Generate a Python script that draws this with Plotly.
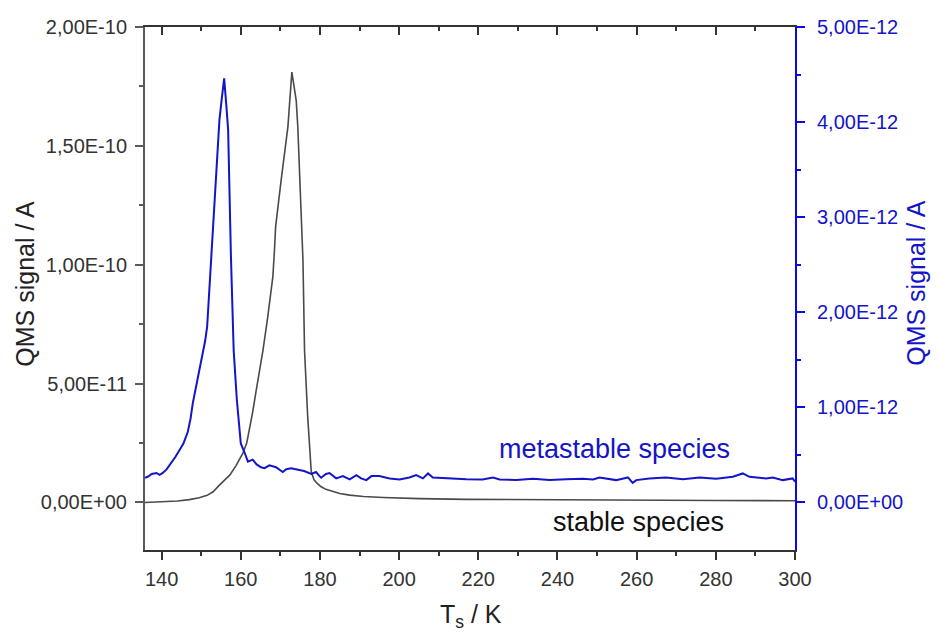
import plotly.graph_objects as go

# ---- data ----
# stable species (left axis, A)
t_stable = [135.8, 140, 144, 147, 149.5, 151.5, 153, 154.6, 156, 157.2, 158.8, 160.5, 161.5,
            162.2, 163.0, 163.9, 164.8, 165.6, 166.8, 168.1, 168.5, 168.8, 170.2, 171.9, 172.9,
            173.4, 174.0, 174.4, 175.3, 175.7, 176.1, 176.9, 177.8, 178.5, 179.3, 180.3, 181.5,
            183.3, 185.0, 187.5, 191, 196, 205, 217, 235, 259, 280, 300]
stable_e11 = [0.0, 0.02, 0.06, 0.12, 0.2, 0.3, 0.45, 0.73, 0.95, 1.15, 1.55, 2.06, 2.5,
              3.04, 3.8, 4.73, 5.6, 6.4, 7.8, 9.5, 10.6, 11.6, 13.57, 15.8, 18.1,
              17.6, 16.9, 15.8, 12.3, 10.2, 6.4, 3.6, 1.29, 0.95, 0.8, 0.66, 0.55,
              0.45, 0.38, 0.31, 0.25, 0.21, 0.16, 0.13, 0.11, 0.10, 0.085, 0.07]

# metastable species (right axis, A)
t_meta = [135.8, 136.5, 137.5, 138.7, 139.5, 140.3, 141.3, 142.4, 143.5, 144.5, 145.5, 146.6,
          147.3, 147.9, 149.0, 150.0, 151.0, 151.5, 152.1, 152.6, 153.5, 154.6, 155.2, 155.8,
          156.3, 156.8, 157.5, 158.2, 159.0, 160.0, 161.0, 161.8, 163.0, 164.0, 165.1, 166.0,
          167.2, 168.9, 170.6, 171.5, 172.7, 174.85, 176.0, 177.8, 179.0, 179.9, 180.3, 181.5,
          182.4, 184.1, 185.8, 187.5, 189.2, 190.4, 191.7, 193.0, 195.0, 197.6, 200.1, 202.6,
          204.3, 206.0, 207.3, 208.5, 212.7, 217.0, 221.1, 223.7, 225.4, 229.6, 233.8, 238.0,
          242.2, 246.4, 249.0, 250.6, 254.8, 257.8, 259.0, 259.9, 263.2, 267.4, 271.7, 275.9,
          280.1, 284.3, 286.8, 288.5, 292.7, 294.4, 296.9, 299.4, 300.0]
meta_e12 = [0.26, 0.27, 0.30, 0.31, 0.29, 0.31, 0.35, 0.41, 0.48, 0.55, 0.62, 0.74,
            0.88, 1.05, 1.28, 1.50, 1.70, 1.85, 2.25, 2.65, 3.30, 4.02, 4.25, 4.46,
            4.20, 3.92, 2.60, 1.60, 1.08, 0.62, 0.52, 0.43, 0.45, 0.40, 0.37, 0.36,
            0.39, 0.37, 0.32, 0.35, 0.36, 0.34, 0.33, 0.30, 0.32, 0.277, 0.26, 0.30,
            0.31, 0.253, 0.277, 0.242, 0.287, 0.253, 0.235, 0.277, 0.277, 0.253, 0.242, 0.263,
            0.287, 0.253, 0.305, 0.263, 0.253, 0.245, 0.242, 0.263, 0.242, 0.235, 0.25, 0.235,
            0.245, 0.25, 0.242, 0.263, 0.235, 0.263, 0.206, 0.235, 0.253, 0.263, 0.245, 0.263,
            0.25, 0.27, 0.305, 0.27, 0.253, 0.263, 0.235, 0.253, 0.22]

stable = [v * 1e-11 for v in stable_e11]
meta = [v * 1e-12 for v in meta_e12]

left_ticks = [0, 5e-11, 1e-10, 1.5e-10, 2e-10]
left_labels = ["0,00E+00", "5,00E-11", "1,00E-10", "1,50E-10", "2,00E-10"]
left_minor = [2.5e-11, 7.5e-11, 1.25e-10, 1.75e-10]
right_ticks = [0, 1e-12, 2e-12, 3e-12, 4e-12, 5e-12]
right_labels = ["0,00E+00", "1,00E-12", "2,00E-12", "3,00E-12", "4,00E-12", "5,00E-12"]
right_minor = [5e-13, 1.5e-12, 2.5e-12, 3.5e-12, 4.5e-12]
x_ticks = [140, 160, 180, 200, 220, 240, 260, 280, 300]
x_minor = [150, 170, 190, 210, 230, 250, 270, 290]

GRAY = "#4a4a4a"
BLUE = "#1414c8"
AXBLUE = "#0a0ae6"
FONT = "Liberation Sans, Arial, sans-serif"
TICK = 20
TITLE = 25
ANN = 27

fig = go.Figure()
fig.add_trace(go.Scatter(x=t_stable, y=stable, mode="lines", name="stable species",
                         line=dict(color=GRAY, width=1.6), yaxis="y", xaxis="x"))
fig.add_trace(go.Scatter(x=t_meta, y=meta, mode="lines", name="metastable species",
                         line=dict(color=BLUE, width=2), yaxis="y2", xaxis="x"))
# top mirror axis carrier (no data)
fig.add_trace(go.Scatter(x=[], y=[], xaxis="x2", yaxis="y", showlegend=False, hoverinfo="skip"))

xr = [135.8, 300]
fig.update_layout(
    width=938, height=634,
    margin=dict(l=145, r=143, t=27, b=84),
    paper_bgcolor="white", plot_bgcolor="white",
    showlegend=False,
    font=dict(family=FONT, size=TICK, color="#333333"),
    xaxis=dict(range=xr, tickvals=x_ticks, ticktext=[str(v) for v in x_ticks],
               showgrid=False, zeroline=False, showline=True, linecolor="#333333", linewidth=2,
               ticks="outside", ticklen=8, tickwidth=2, tickcolor="#333333",
               ticklabelstandoff=2,
               minor=dict(tickvals=x_minor, ticks="outside", ticklen=4, tickwidth=2, tickcolor="#333333"),
               tickfont=dict(size=TICK, color="#333333")),
    xaxis2=dict(range=xr, overlaying="x", side="top", anchor="y", tickvals=x_ticks,
                showticklabels=False, showgrid=False, zeroline=False, showline=True,
                linecolor="#333333", linewidth=2, ticks="inside", ticklen=8, tickwidth=2,
                tickcolor="#333333",
                minor=dict(tickvals=x_minor, ticks="inside", ticklen=4, tickwidth=2, tickcolor="#333333")),
    yaxis=dict(range=[-2e-11, 2e-10], tickvals=left_ticks, ticktext=left_labels,
               showgrid=False, zeroline=False, showline=True, linecolor="#5a5a5a", linewidth=2,
               ticks="outside", ticklen=8, tickwidth=2, tickcolor="#5a5a5a",
               ticklabelstandoff=4,
               minor=dict(tickvals=left_minor, ticks="outside", ticklen=4, tickwidth=2, tickcolor="#5a5a5a"),
               tickfont=dict(size=TICK, color="#333333")),
    yaxis2=dict(range=[-0.5e-12, 5e-12], overlaying="y", side="right", anchor="x",
                tickvals=right_ticks, ticktext=right_labels,
                showgrid=False, zeroline=False, showline=True, linecolor=AXBLUE, linewidth=2,
                ticks="outside", ticklen=8, tickwidth=2, tickcolor=AXBLUE,
                ticklabelstandoff=8,
                minor=dict(tickvals=right_minor, ticks="outside", ticklen=4, tickwidth=2, tickcolor=AXBLUE),
                tickfont=dict(size=TICK, color=BLUE)),
    annotations=[
        dict(text="QMS signal / A", xref="paper", yref="paper", x=-0.184, y=0.51,
             textangle=-90, showarrow=False, font=dict(size=TITLE, color="#222222"),
             xanchor="center", yanchor="middle"),
        dict(text="QMS signal / A", xref="paper", yref="paper", x=1.187, y=0.51,
             textangle=-90, showarrow=False, font=dict(size=TITLE, color=BLUE),
             xanchor="center", yanchor="middle"),
        dict(text="T<sub>s</sub> / K", xref="paper", yref="paper", x=0.502, y=-0.16,
             showarrow=False, font=dict(size=TITLE, color="#222222"),
             xanchor="center", yanchor="bottom"),
        dict(text="metastable species", xref="x", yref="y", x=254.5, y=2.24e-11,
             showarrow=False, font=dict(size=ANN, color=BLUE), xanchor="center", yanchor="middle"),
        dict(text="stable species", xref="x", yref="y", x=260.5, y=-8.3e-12,
             showarrow=False, font=dict(size=ANN, color="#111111"), xanchor="center", yanchor="middle"),
    ],
)

fig.write_html("out.html")
